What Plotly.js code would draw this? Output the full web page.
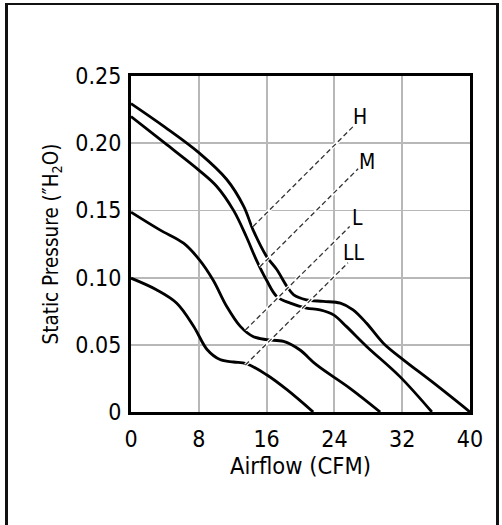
<!DOCTYPE html>
<html>
<head>
<meta charset="utf-8">
<script src="https://cdn.plot.ly/plotly-3.0.1.min.js"></script>
<style>
  html, body { margin: 0; padding: 0; background: #fff; }
  #frame { position: absolute; left: 5px; top: 3px; width: 494px; height: 530px;
           border-top: 2px solid #111; border-left: 3px solid #111; border-right: 3px solid #111; box-sizing: border-box; pointer-events: none; z-index: 10; }
  #chart { position: absolute; left: 0; top: 0; width: 502px; height: 525px; }
</style>
</head>
<body>
<div id="chart"></div>
<div id="frame"></div>
<script>
// Airflow (CFM) / static pressure ("H2O)
const flowH = [0, 4, 8, 11.3, 13.3, 14.4, 16, 17.2, 18.4, 19.2, 20.7, 22.7, 24.7, 26.2, 27.8, 29.8, 32.1, 35.7, 40];
const presH = [0.2295, 0.212, 0.193, 0.173, 0.153, 0.1355, 0.1157, 0.106, 0.0934, 0.0872, 0.0835, 0.0823, 0.081, 0.076, 0.066, 0.051, 0.039, 0.0216, 0];

const flowM = [0, 4, 8, 10.1, 12.1, 13.6, 14.8, 16, 17.2, 18.8, 20.7, 22.3, 23.9, 25.4, 27.8, 31.7, 35.5];
const presM = [0.2198, 0.200, 0.180, 0.168, 0.150, 0.1306, 0.113, 0.098, 0.086, 0.081, 0.0773, 0.076, 0.0723, 0.0637, 0.0488, 0.0265, 0];

const flowL = [0, 3.4, 6.2, 8.1, 9.7, 11.3, 12.9, 14.4, 16, 18, 19.9, 21.9, 25.8, 29.4];
const presL = [0.1487, 0.1355, 0.1256, 0.113, 0.098, 0.0785, 0.0637, 0.0562, 0.0538, 0.0525, 0.0463, 0.035, 0.0178, 0];

const flowLL = [0, 3.0, 5.4, 7.4, 9.0, 10.5, 12.1, 13.6, 16, 18.4, 21.5];
const presLL = [0.0996, 0.091, 0.081, 0.0637, 0.0463, 0.039, 0.0372, 0.036, 0.0277, 0.0166, 0];

// dashed leader lines (start, end) and their labels
const speedNames = ['H', 'M', 'L', 'LL'];
const leaderX = [[14.4, 26.4], [15.2, 26.8], [13.5, 25.8], [13.5, 25.6]];
const leaderY = [[0.138, 0.2136], [0.108, 0.181], [0.061, 0.138], [0.035, 0.111]];
const labelX = [27.0, 27.8, 26.7, 26.3];
const labelY = [0.2198, 0.186, 0.144, 0.118];

const xTicks = [0, 8, 16, 24, 32, 40];
const yTicks = [0, 0.05, 0.10, 0.15, 0.20, 0.25];
const yTickText = ['0', '0.05', '0.10', '0.15', '0.20', '0.25'];

const FONT = '"DejaVu Sans Condensed", "DejaVu Sans", sans-serif';

const curves = [[flowH, presH], [flowM, presM], [flowL, presL], [flowLL, presLL]];
const traces = [];
curves.forEach((c, i) => {
  traces.push({
    x: c[0], y: c[1], mode: 'lines', type: 'scatter', name: speedNames[i],
    line: { color: '#000', width: 2.8, shape: 'spline', smoothing: 1 }
  });
});
// white halo under leaders creates the small gaps where they cross the curves
speedNames.forEach((n, i) => {
  traces.push({
    x: leaderX[i], y: leaderY[i], mode: 'lines', type: 'scatter',
    line: { color: '#fff', width: 3.5 }, hoverinfo: 'skip'
  });
});
speedNames.forEach((n, i) => {
  traces.push({
    x: leaderX[i], y: leaderY[i], mode: 'lines', type: 'scatter',
    line: { color: '#333', width: 1.3, dash: '5px,3px' }, hoverinfo: 'skip'
  });
});

const annotations = speedNames.map((n, i) => ({
  x: labelX[i], y: labelY[i], xref: 'x', yref: 'y', text: n, showarrow: false,
  font: { family: FONT, size: 21, color: '#000' }, xanchor: 'center', yanchor: 'middle'
}));

const layout = {
  width: 502, height: 525,
  margin: { l: 131, r: 32, t: 76, b: 113 },
  paper_bgcolor: '#fff', plot_bgcolor: '#fff',
  showlegend: false,
  font: { family: FONT, size: 22, color: '#000' },
  xaxis: {
    range: [0, 40], tickvals: xTicks, ticktext: xTicks.map(String),
    showgrid: true, gridcolor: '#b8b8b8', gridwidth: 1.8,
    showline: true, linecolor: '#000', linewidth: 3, mirror: true,
    zeroline: false, ticks: 'outside', ticklen: 4, tickcolor: 'rgba(0,0,0,0)',
    tickfont: { family: FONT, size: 23 },
    title: { text: 'Airflow (CFM)', font: { family: FONT, size: 23.5 }, standoff: 4 }
  },
  yaxis: {
    range: [0, 0.25], tickvals: yTicks, ticktext: yTickText,
    showgrid: true, gridcolor: '#b8b8b8', gridwidth: 1.8,
    showline: true, linecolor: '#000', linewidth: 3, mirror: true,
    zeroline: false, ticks: 'outside', ticklen: 2, tickcolor: 'rgba(0,0,0,0)',
    tickfont: { family: FONT, size: 23 },
    title: { text: 'Static Pressure (\u2033H<sub>2</sub>O)', font: { family: FONT, size: 20.5 }, standoff: 12 }
  },
  annotations: annotations
};

Plotly.newPlot('chart', traces, layout, { displayModeBar: false, staticPlot: true });
</script>
</body>
</html>
